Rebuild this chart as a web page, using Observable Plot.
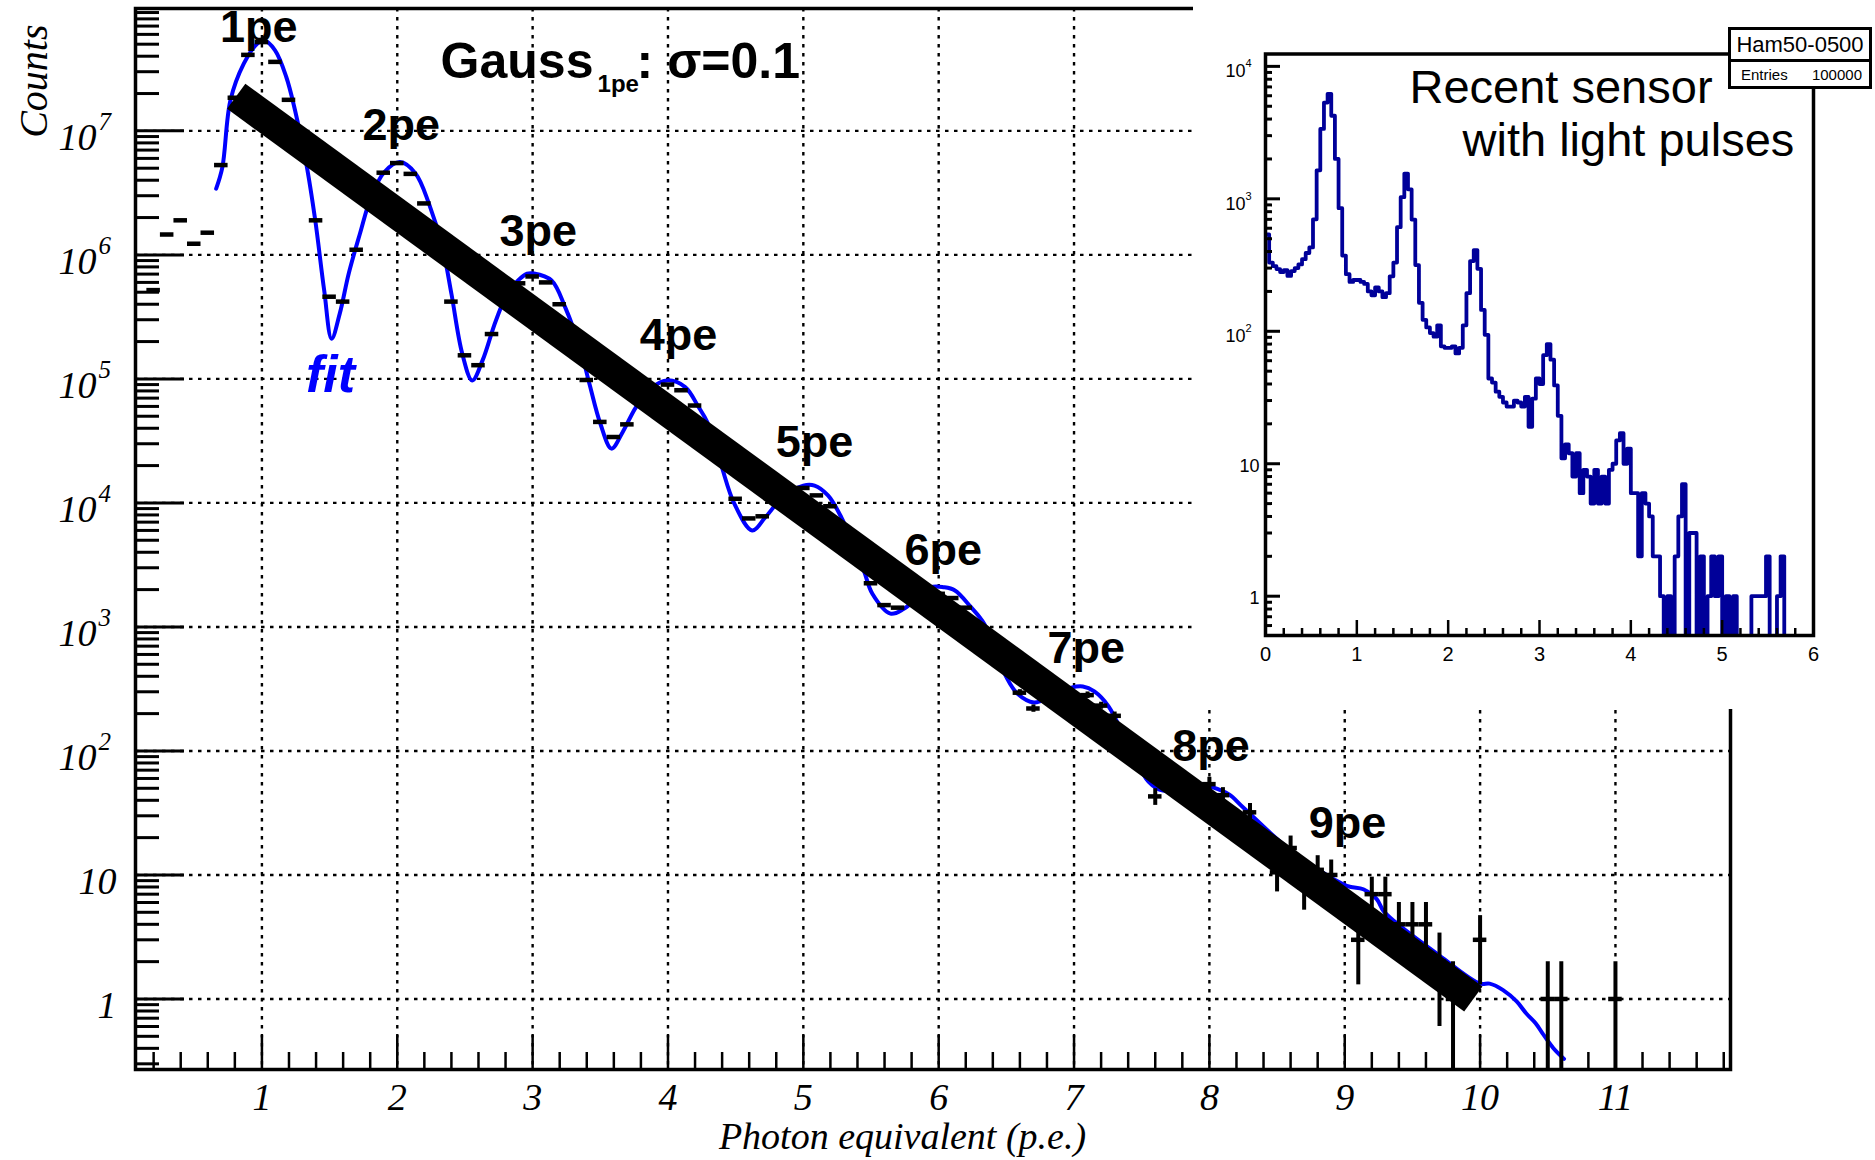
<!DOCTYPE html>
<html>
<head>
<meta charset="utf-8">
<script src="https://cdn.jsdelivr.net/npm/d3@7"></script>
<script src="https://cdn.jsdelivr.net/npm/@observablehq/plot@0.6"></script>
<style>
html,body{margin:0;padding:0;background:#fff;overflow:hidden;}
#wrap{position:relative;width:1875px;height:1160px;}
#main{position:absolute;left:0;top:0;}
#inset{position:absolute;left:1193px;top:0;}
#stats{position:absolute;left:1728px;top:27px;width:144px;height:62px;box-sizing:border-box;border:3px solid #000;background:#fff;font-family:"Liberation Sans",Arial,sans-serif;color:#000;}
#stats .r1{height:29px;line-height:30px;text-align:center;font-size:22px;border-bottom:3px solid #000;}
#stats .r2{height:24px;line-height:25px;font-size:15px;display:flex;justify-content:space-between;padding:0 7px 0 10px;}
</style>
</head>
<body>
<div id="wrap">
  <div id="main"></div>
  <div id="inset"></div>
  <div id="stats"><div class="r1" id="statsName"></div><div class="r2"><span id="statsKey"></span><span id="statsVal"></span></div></div>
</div>
<script>
// ---------------- main histogram (bins of 0.1 p.e.) ----------------
const binWidth = 0.1;
const dataX = [0.2,0.3,0.4,0.5,0.6,0.7,0.8,0.9,1.0,1.1,1.2,1.4,1.5,1.6,1.7,1.9,2.0,2.1,2.2,2.4,2.5,2.6,2.7,2.9,3.0,3.1,3.2,3.4,3.5,3.6,3.7,4.0,4.1,4.2,4.5,4.6,4.7,5.0,5.1,5.2,5.5,5.6,5.7,6.0,6.1,6.2,6.6,6.7,7.1,7.2,7.3,7.6,8.0,8.1,8.3,8.5,8.6,8.7,8.8,8.9,9.1,9.2,9.3,9.4,9.5,9.6,9.7,9.8,10.0,10.5,10.6,11.0];
const dataY = [5.2e5,1.46e6,1.9e6,1.23e6,1.51e6,5.3e6,1.85e7,4.1e7,5.2e7,3.6e7,1.78e7,1.9e6,4.6e5,4.2e5,1.1e6,4.6e6,5.5e6,4.5e6,2.6e6,4.2e5,1.55e5,1.29e5,2.3e5,5.9e5,6.7e5,6.0e5,4.0e5,9.8e4,4.5e4,3.4e4,4.3e4,9.0e4,8.1e4,6.1e4,1.08e4,7.5e3,7.8e3,1.32e4,1.15e4,9.4e3,2.25e3,1.5e3,1.43e3,1.85e3,1.71e3,1.43e3,295,220,282,232,192,43,54,44,32,10.5,16.5,8,11,10,3,7,7,4,4,4,2,1,3,1,1,1];
// visible error bars (tail)
const errX   = [6.6,6.7,7.1,7.2,7.3,7.6,8.0,8.1,8.3,8.5,8.6,8.7,8.8,8.9,9.1,9.2,9.3,9.4,9.5,9.6,9.7,9.8,10.0,10.5,10.6,11.0];
const errY   = [295,220,282,232,192,43,54,44,32,10.5,16.5,8,11,10,3,7,7,4,4,4,2,1,3,1,1,1];
const errVal = [17,15,17,15,14,6.6,7.3,6.6,5.7,3.2,4.1,2.8,3.3,3.2,1.7,2.6,2.6,2,2,2,1.4,1,1.7,1,1,1];

// blue fit curve
const fitX = [0.662,0.708,0.767,0.866,0.965,1.015,1.097,1.18,1.245,1.328,1.394,1.46,1.515,1.575,1.641,1.724,1.806,1.905,2.02,2.136,2.234,2.333,2.40,2.48,2.554,2.63,2.729,2.828,2.96,3.01,3.14,3.24,3.355,3.42,3.5,3.583,3.665,3.764,3.88,3.995,4.127,4.226,4.29,4.39,4.49,4.622,4.72,4.85,5.0,5.083,5.182,5.28,5.446,5.51,5.644,5.743,5.94,6.04,6.12,6.237,6.336,6.50,6.583,6.704,6.85,6.98,7.065,7.15,7.255,7.4,7.55,7.657,7.89,8.02,8.145,8.25,8.6,9.015,9.137,9.236,9.285,9.36,9.7,10.0,10.07,10.17,10.27,10.34,10.41,10.46,10.54,10.62];
const fitY = [3.42e6,5.1e6,1.76e7,3.48e7,5.05e7,5.37e7,4.46e7,2.72e7,1.46e7,5.43e6,1.9e6,5.18e5,2.11e5,3.36e5,7.05e5,1.48e6,2.92e6,4.66e6,5.6e6,4.52e6,2.59e6,1.16e6,4.86e5,1.6e5,9.7e4,1.41e5,2.96e5,5.18e5,7.05e5,7.08e5,6.22e5,3.79e5,1.7e5,9.1e4,4.37e4,2.74e4,3.72e4,5.93e4,8.5e4,9.73e4,8.59e4,5.93e4,4.49e4,2.07e4,9.86e3,6.0e3,7.67e3,1.12e4,1.38e4,1.38e4,1.15e4,7.67e3,2.86e3,1.85e3,1.28e3,1.4e3,2.09e3,2.09e3,1.97e3,1.45e3,1.06e3,394,289,246,282,324,331,302,229,112,56.6,47.9,54.7,51.1,44.6,35,15.8,8.17,7.67,6.38,5.15,4.29,2.24,1.33,1.33,1.18,0.955,0.767,0.638,0.531,0.403,0.329];

// thick black exponential trend
const bandX = [0.81, 9.95];
const bandY = [1.9e7, 1.0];

// peak labels
const peakText = ["1pe","2pe","3pe","4pe","5pe","6pe","7pe","8pe","9pe"];
const peakX = [0.977,2.03,3.042,4.078,5.083,6.033,7.09,8.012,9.02];
const peakY = [5.2e7,8.38e6,1.19e6,1.7e5,2.34e4,3.13e3,513,83,20];

// axis ticks / labels
const xTickValues = [1,2,3,4,5,6,7,8,9,10,11];
const xTickLabels = ["1","2","3","4","5","6","7","8","9","10","11"];
const yTickValues = [1,10,1e2,1e3,1e4,1e5,1e6,1e7];
const yTickBase = ["1","10","10","10","10","10","10","10"];
const yTickExp  = ["","","2","3","4","5","6","7"];

// ---------------- inset histogram (bins of 0.04) ----------------
const insetBin = 0.04;
const insetCounts = [540,330,310,295,280,290,262,285,300,320,350,390,430,700,1640,3370,5330,6200,4240,2000,850,373,270,236,244,244,236,228,200,187,214,200,181,194,260,330,611,1030,1550,1180,697,316,164,122,107,97,91,111,77,75,75,77,68,75,111,194,339,410,296,145,94,44,41,35,32,29,27,27,30,29,27,32,19,31,44,40,66,80,61,39,23,11,14,12,8,12,6,9,8,5,9,5,8,5,9,10,15,17,10,13,6,6,2,6,5,4,2,2,1,0,1,0,2,4,7,0,3,3,0,2,0,1,2,1,2,0,1,0,1,0,0,0,0,1,1,1,1,2,0,0,1,2,0];
const insetXTicks = [0,1,2,3,4,5,6];
const insetXLabels = ["0","1","2","3","4","5","6"];
const insetYTicks = [1,10,1e2,1e3,1e4];
const insetYBase = ["1","10","10","10","10"];
const insetYExp = ["","","2","3","4"];
const insetTitle = ["Recent sensor","with light pulses"];
const statsName = "Ham50-0500";
const statsKey = "Entries";
const statsVal = "100000";

// ---------------- build ----------------
const serif = "Liberation Serif, Times New Roman, serif";
const sans = "Liberation Sans, Arial, Helvetica, sans-serif";

const W = 1875, H = 1160, mL = 135, mR = 145, mT = 8, mB = 91;
const pW = W - mL - mR, pH = H - mT - mB;

const points = dataX.map((x, i) => ({x, y: dataY[i]}));
const errs = errX.map((x, i) => ({x, lo: Math.max(errY[i] - errVal[i], 1e-3), hi: errY[i] + errVal[i]}));
const fit = fitX.map((x, i) => ({x, y: fitY[i]}));
const band = bandX.map((x, i) => ({x, y: bandY[i]}));
const peaks = peakText.map((t, i) => ({t, x: peakX[i], y: peakY[i]}));

const yMinor = [];
for (let k = -1; k <= 7; k++) for (let m = 2; m <= 9; m++) { const v = m * Math.pow(10, k); if (v > 0.27 && v < 9.7e7) yMinor.push(v); }
const xMinor = d3.range(0.2, 11.85, 0.2).filter(v => Math.abs(v - Math.round(v)) > 1e-6);

const yPlain = yTickValues.map((v, i) => ({v, b: yTickBase[i], e: yTickExp[i]})).filter(d => d.e === "");
const yExp = yTickValues.map((v, i) => ({v, b: yTickBase[i], e: yTickExp[i]})).filter(d => d.e !== "");

const gauss = {x: 2.32, y: 2.67e7};

const mainPlot = Plot.plot({
  width: W, height: H,
  marginLeft: mL, marginRight: mR, marginTop: mT, marginBottom: mB,
  style: {background: "white", overflow: "visible"},
  x: {domain: [0.066, 11.85], axis: null},
  y: {type: "log", domain: [0.27, 9.7e7], axis: null},
  marks: [
    Plot.ruleY(yTickValues, {y: d => d, stroke: "#000", strokeWidth: 2.4, strokeDasharray: "3.5,5.5"}),
    Plot.ruleX(xTickValues, {x: d => d, stroke: "#000", strokeWidth: 2.4, strokeDasharray: "3.5,5.5"}),
    Plot.tickY(yTickValues, {y: d => d, insetRight: pW - 49, strokeWidth: 3}),
    Plot.tickY(yMinor, {y: d => d, insetRight: pW - 24, strokeWidth: 3}),
    Plot.tickX(xTickValues, {x: d => d, insetTop: pH - 34, strokeWidth: 2.5}),
    Plot.tickX(xMinor, {x: d => d, insetTop: pH - 17, strokeWidth: 2.5}),
    Plot.frame({stroke: "#000", strokeWidth: 3.5}),
    Plot.line(fit, {x: "x", y: "y", stroke: "#0000ff", strokeWidth: 4, curve: "catmull-rom"}),
    Plot.ruleY(points, {y: "y", x1: d => d.x - binWidth / 2, x2: d => d.x + binWidth / 2, stroke: "#000", strokeWidth: 4.5}),
    Plot.ruleX(errs, {x: "x", y1: "lo", y2: "hi", stroke: "#000", strokeWidth: 4, clip: true}),
    Plot.line(band, {x: "x", y: "y", stroke: "#000", strokeWidth: 31, strokeLinecap: "butt"}),
    Plot.text(peaks, {x: "x", y: "y", text: "t", textAnchor: "middle", lineAnchor: "bottom", fontFamily: sans, fontWeight: "bold", fontSize: 45, fill: "#000"}),
    Plot.text([gauss], {x: "x", y: "y", text: () => "Gauss", textAnchor: "start", lineAnchor: "bottom", fontFamily: sans, fontWeight: "bold", fontSize: 50, fill: "#000"}),
    Plot.text([gauss], {x: "x", y: "y", text: () => "1pe", textAnchor: "start", lineAnchor: "bottom", dx: 157, dy: 14, fontFamily: sans, fontWeight: "bold", fontSize: 24, fill: "#000"}),
    Plot.text([gauss], {x: "x", y: "y", text: () => ": σ=0.1", textAnchor: "start", lineAnchor: "bottom", dx: 196, fontFamily: sans, fontWeight: "bold", fontSize: 50, fill: "#000"}),
    Plot.text([{x: 1.507, y: 7.8e4}], {x: "x", y: "y", text: () => "fit", textAnchor: "middle", lineAnchor: "bottom", fontFamily: sans, fontWeight: "bold", fontStyle: "italic", fontSize: 52, fill: "#0000ff"}),
    // y tick labels
    Plot.text(yPlain, {y: "v", text: "b", frameAnchor: "left", textAnchor: "end", lineAnchor: "bottom", dx: -19, dy: 19, fontFamily: serif, fontStyle: "italic", fontSize: 38, fill: "#000"}),
    Plot.text(yExp, {y: "v", text: "b", frameAnchor: "left", textAnchor: "end", lineAnchor: "bottom", dx: -39, dy: 19, fontFamily: serif, fontStyle: "italic", fontSize: 38, fill: "#000"}),
    Plot.text(yExp, {y: "v", text: "e", frameAnchor: "left", textAnchor: "start", lineAnchor: "bottom", dx: -37, dy: -1, fontFamily: serif, fontStyle: "italic", fontSize: 25, fill: "#000"}),
    // x tick labels
    Plot.text(xTickValues, {x: d => d, text: (d, i) => xTickLabels[i], frameAnchor: "bottom", textAnchor: "middle", lineAnchor: "bottom", dy: 40, fontFamily: serif, fontStyle: "italic", fontSize: 38, fill: "#000"}),
    // axis titles
    Plot.text(["Counts"], {text: d => d, frameAnchor: "top-left", dx: -101, dy: 16, rotate: -90, textAnchor: "end", lineAnchor: "middle", fontFamily: serif, fontStyle: "italic", fontSize: 40, fill: "#000"}),
    Plot.text(["Photon equivalent (p.e.)"], {text: d => d, frameAnchor: "bottom-left", dx: 767, dy: 79, textAnchor: "middle", lineAnchor: "bottom", fontFamily: serif, fontStyle: "italic", fontSize: 38, fill: "#000"})
  ]
});
document.getElementById("main").appendChild(mainPlot);

// ---------------- inset ----------------
const iW = 682, iH = 709, iL = 72, iR = 62, iT = 53.5, iB = 74;
const ipW = iW - iL - iR, ipH = iH - iT - iB;
const hist = insetCounts.map((c, i) => ({x: i * insetBin, c}));
hist.push({x: insetCounts.length * insetBin, c: insetCounts[insetCounts.length - 1]});

const iyMinor = [];
for (let k = -1; k <= 4; k++) for (let m = 2; m <= 9; m++) { const v = m * Math.pow(10, k); if (v > 0.505 && v < 12400) iyMinor.push(v); }
const ixMinor = d3.range(0.2, 6, 0.2).filter(v => Math.abs(v - Math.round(v)) > 1e-6);
const iyPlain = insetYTicks.map((v, i) => ({v, b: insetYBase[i], e: insetYExp[i]})).filter(d => d.e === "");
const iyExp = insetYTicks.map((v, i) => ({v, b: insetYBase[i], e: insetYExp[i]})).filter(d => d.e !== "");

const insetPlot = Plot.plot({
  width: iW, height: iH,
  marginLeft: iL, marginRight: iR, marginTop: iT, marginBottom: iB,
  style: {background: "white", overflow: "visible"},
  x: {domain: [0, 6], axis: null},
  y: {type: "log", domain: [0.505, 12400], axis: null},
  marks: [
    Plot.line(hist, {x: "x", y: d => Math.max(d.c, 1e-3), curve: "step-after", stroke: "#000099", strokeWidth: 3.8, clip: true}),
    Plot.tickY(insetYTicks, {y: d => d, insetRight: ipW - 15, strokeWidth: 3}),
    Plot.tickY(iyMinor, {y: d => d, insetRight: ipW - 7, strokeWidth: 3}),
    Plot.tickX(insetXTicks, {x: d => d, insetTop: ipH - 15, strokeWidth: 2.5}),
    Plot.tickX(ixMinor, {x: d => d, insetTop: ipH - 7, strokeWidth: 2.5}),
    Plot.frame({stroke: "#000", strokeWidth: 3.5}),
    Plot.text(insetXTicks, {x: d => d, text: (d, i) => insetXLabels[i], frameAnchor: "bottom", textAnchor: "middle", lineAnchor: "bottom", dy: 25, fontFamily: sans, fontSize: 20, fill: "#000"}),
    Plot.text(iyPlain, {y: "v", text: "b", frameAnchor: "left", textAnchor: "end", lineAnchor: "middle", dx: -6, dy: 2, fontFamily: sans, fontSize: 18, fill: "#000"}),
    Plot.text(iyExp, {y: "v", text: "b", frameAnchor: "left", textAnchor: "end", lineAnchor: "bottom", dx: -20, dy: 11, fontFamily: sans, fontSize: 18, fill: "#000"}),
    Plot.text(iyExp, {y: "v", text: "e", frameAnchor: "left", textAnchor: "start", lineAnchor: "bottom", dx: -20, dy: 1, fontFamily: sans, fontSize: 11, fill: "#000"}),
    Plot.text([insetTitle[0]], {text: d => d, frameAnchor: "top-left", dx: 144, dy: 49, textAnchor: "start", lineAnchor: "bottom", fontFamily: sans, fontSize: 47, fill: "#000"}),
    Plot.text([insetTitle[1]], {text: d => d, frameAnchor: "top-left", dx: 197, dy: 102, textAnchor: "start", lineAnchor: "bottom", fontFamily: sans, fontSize: 47, fill: "#000"})
  ]
});
document.getElementById("inset").appendChild(insetPlot);

document.getElementById("statsName").textContent = statsName;
document.getElementById("statsKey").textContent = statsKey;
document.getElementById("statsVal").textContent = statsVal;
</script>
</body>
</html>
